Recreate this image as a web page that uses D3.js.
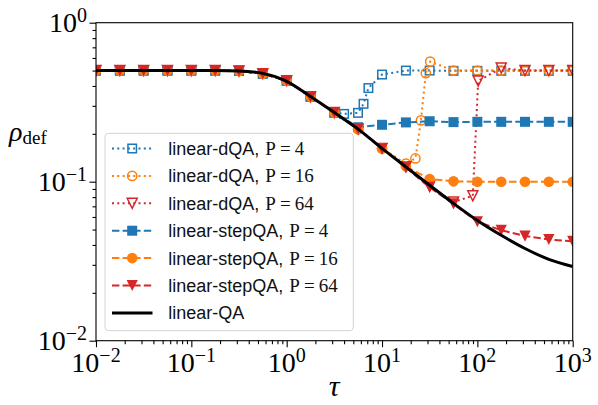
<!DOCTYPE html>
<html>
<head>
<meta charset="utf-8">
<script src="https://cdn.jsdelivr.net/npm/d3@7"></script>
<style>
  body { margin: 0; background: #fff; }
  svg { display: block; }
</style>
</head>
<body>
<div class="chart"></div>
<script>
// tau grid (quarter decades) and the curves
var tauGrid = [0.01, 0.0178, 0.0316, 0.0562, 0.1, 0.178, 0.316, 0.562, 1, 1.78, 3.16,
               5.62, 10, 17.8, 31.6, 56.2, 100, 178, 316, 562, 1000];

var qaRho = [0.5, 0.5, 0.5, 0.5, 0.5, 0.5, 0.497, 0.48, 0.428, 0.343, 0.272,
             0.214, 0.162, 0.124, 0.095, 0.073, 0.057, 0.046, 0.038, 0.0325, 0.0293];

var stepP4 = [0.5, 0.5, 0.5, 0.5, 0.5, 0.5, 0.497, 0.478, 0.432, 0.342, 0.272,
              0.22, 0.228, 0.236, 0.24, 0.237, 0.238, 0.238, 0.238, 0.238, 0.238];
var stepP16 = [0.5, 0.5, 0.5, 0.5, 0.5, 0.5, 0.497, 0.478, 0.432, 0.342, 0.272,
               0.214, 0.162, 0.125, 0.104, 0.1005, 0.1, 0.1, 0.1, 0.1, 0.1];
var stepP64 = [0.5, 0.5, 0.5, 0.5, 0.5, 0.5, 0.497, 0.478, 0.432, 0.342, 0.272,
               0.214, 0.161, 0.123, 0.092, 0.0725, 0.056, 0.0495, 0.0455, 0.0433, 0.0422];

var dqaP4Tau = [0.01, 0.0178, 0.0316, 0.0562, 0.1, 0.178, 0.316, 0.562, 1, 1.78, 3.16,
                4, 5.6, 6.4, 7.2, 10, 17.8, 31.6, 56.2, 100, 178, 316, 562, 1000];
var dqaP4Rho = [0.5, 0.5, 0.5, 0.5, 0.5, 0.5, 0.497, 0.478, 0.432, 0.342, 0.272,
                0.267, 0.271, 0.309, 0.388, 0.472, 0.5, 0.5, 0.498, 0.498, 0.498, 0.498, 0.498, 0.498];

var dqaP16Tau = [0.01, 0.0178, 0.0316, 0.0562, 0.1, 0.178, 0.316, 0.562, 1, 1.78, 3.16,
                 5.62, 10, 17.8, 22.4, 25.6, 28.8, 32, 56.2, 100, 178, 316, 562, 1000];
var dqaP16Rho = [0.5, 0.5, 0.5, 0.5, 0.5, 0.5, 0.497, 0.478, 0.432, 0.342, 0.272,
                 0.214, 0.162, 0.13, 0.14, 0.243, 0.482, 0.569, 0.5, 0.5, 0.5, 0.5, 0.5, 0.5];

var dqaP64Tau = [0.01, 0.0178, 0.0316, 0.0562, 0.1, 0.178, 0.316, 0.562, 1, 1.78, 3.16,
                 5.62, 10, 17.8, 31.6, 56.2, 89.6, 102, 178, 316, 562, 1000];
var dqaP64Rho = [0.5, 0.5, 0.5, 0.5, 0.5, 0.5, 0.497, 0.478, 0.432, 0.342, 0.272,
                 0.214, 0.162, 0.124, 0.094, 0.0745, 0.0815, 0.43, 0.518, 0.5, 0.5, 0.5];

var xMajor = [1e-2, 1e-1, 1e0, 1e1, 1e2, 1e3];
var xMajorExp = ["\u22122", "\u22121", "0", "1", "2", "3"];
var yMajor = [1e-2, 1e-1, 1e0];
var yMajorExp = ["\u22122", "\u22121", "0"];

var blue = "#1f77b4", orange = "#ff7f0e", red = "#d62728";

var series = [
  {label: "linear-dQA,", p: "4", tau: dqaP4Tau, rho: dqaP4Rho, color: blue, dash: "2,3.3", marker: "square", open: true},
  {label: "linear-dQA,", p: "16", tau: dqaP16Tau, rho: dqaP16Rho, color: orange, dash: "2,3.3", marker: "circle", open: true},
  {label: "linear-dQA,", p: "64", tau: dqaP64Tau, rho: dqaP64Rho, color: red, dash: "2,3.3", marker: "tri", open: true},
  {label: "linear-stepQA,", p: "4", tau: tauGrid, rho: stepP4, color: blue, dash: "7.4,3.2", marker: "square", open: false},
  {label: "linear-stepQA,", p: "16", tau: tauGrid, rho: stepP16, color: orange, dash: "7.4,3.2", marker: "circle", open: false},
  {label: "linear-stepQA,", p: "64", tau: tauGrid, rho: stepP64, color: red, dash: "7.4,3.2", marker: "tri", open: false}
];

var width = 598, height = 405;
var plotL = 96, plotR = 572.7, plotT = 22.7, plotB = 340.7;

var svg = d3.select(".chart").append("svg").attr("width", width).attr("height", height);

var x = d3.scaleLog().domain([1e-2, 1e3]).range([plotL, plotR]);
var y = d3.scaleLog().domain([1e-2, 1]).range([plotB, plotT]);

svg.append("clipPath").attr("id", "clip")
  .append("rect").attr("x", plotL).attr("y", plotT).attr("width", plotR - plotL).attr("height", plotB - plotT);

// minor ticks
var xMinor = [], yMinor = [];
[-2, -1, 0, 1, 2].forEach(function(e) {
  for (var m = 2; m < 10; m++) xMinor.push(m * Math.pow(10, e));
});
[-2, -1].forEach(function(e) {
  for (var m = 2; m < 10; m++) yMinor.push(m * Math.pow(10, e));
});

function styleAxis(g) {
  g.select(".domain").remove();
  g.selectAll("line").attr("stroke", "#000").attr("stroke-width", 1.1);
  g.selectAll("text").remove();
}

svg.append("g").attr("transform", "translate(0," + plotB + ")")
  .call(d3.axisBottom(x).tickValues(xMajor).tickSize(6.5).tickSizeOuter(0)).call(styleAxis);
svg.append("g").attr("transform", "translate(0," + plotB + ")")
  .call(d3.axisBottom(x).tickValues(xMinor).tickSize(3.5).tickSizeOuter(0)).call(styleAxis);
svg.append("g").attr("transform", "translate(" + plotL + ",0)")
  .call(d3.axisLeft(y).tickValues(yMajor).tickSize(6.5).tickSizeOuter(0)).call(styleAxis);
svg.append("g").attr("transform", "translate(" + plotL + ",0)")
  .call(d3.axisLeft(y).tickValues(yMinor).tickSize(3.5).tickSizeOuter(0)).call(styleAxis);

var serif = "'Liberation Serif', 'DejaVu Serif', serif";
var sans = "'Liberation Sans', 'DejaVu Sans', sans-serif";

// tick labels 10^n
xMajor.forEach(function(v, i) {
  var t = svg.append("text").attr("x", x(v)).attr("y", 372).attr("text-anchor", "middle")
    .attr("font-family", serif).attr("font-size", 28);
  t.append("tspan").text("10");
  t.append("tspan").attr("dy", -10).attr("font-size", 20).text(xMajorExp[i]);
});
yMajor.forEach(function(v, i) {
  var t = svg.append("text").attr("x", 87).attr("y", y(v) + 9).attr("text-anchor", "end")
    .attr("font-family", serif).attr("font-size", 28);
  t.append("tspan").text("10");
  t.append("tspan").attr("dy", -10).attr("font-size", 20).text(yMajorExp[i]);
});

// axis labels
svg.append("text").attr("x", 334).attr("y", 396).attr("text-anchor", "middle")
  .attr("font-family", serif).attr("font-style", "italic").attr("font-size", 30).text("\u03c4");
var yl = svg.append("text").attr("x", 9).attr("y", 141).attr("font-family", serif).attr("font-size", 28);
yl.append("tspan").attr("font-style", "italic").text("\u03c1");
yl.append("tspan").attr("dy", 3).attr("font-size", 19).text("def");

// markers
function drawMarker(g, kind, open, color, cx, cy) {
  var sw = open ? 1.5 : 0;
  var fill = open ? "none" : color;
  var m;
  if (kind === "square") {
    var s = open ? 8.5 : 10;
    m = g.append("rect").attr("x", cx - s / 2).attr("y", cy - s / 2).attr("width", s).attr("height", s);
  } else if (kind === "circle") {
    m = g.append("circle").attr("cx", cx).attr("cy", cy).attr("r", open ? 4.6 : 5.3);
  } else {
    var h = open ? 5 : 5.6;
    m = g.append("path").attr("d", "M" + (cx - h) + "," + (cy - h) + "L" + (cx + h) + "," + (cy - h) + "L" + cx + "," + (cy + h) + "Z");
  }
  m.attr("fill", fill).attr("stroke", open ? color : "none").attr("stroke-width", sw);
  return m;
}

var plot = svg.append("g").attr("clip-path", "url(#clip)");

var line = d3.line()
  .x(function(d) { return x(d[0]); })
  .y(function(d) { return y(d[1]); });

series.forEach(function(s) {
  var pts = s.tau.map(function(t, i) { return [t, s.rho[i]]; });
  var g = plot.append("g");
  g.append("path").datum(pts).attr("d", line).attr("fill", "none")
    .attr("stroke", s.color).attr("stroke-width", 2).attr("stroke-dasharray", s.dash);
  pts.forEach(function(p) {
    drawMarker(g, s.marker, s.open, s.color, x(p[0]), y(p[1]));
  });
});

var qaPts = tauGrid.map(function(t, i) { return [t, qaRho[i]]; });
plot.append("path").datum(qaPts)
  .attr("d", line.curve(d3.curveMonotoneX))
  .attr("fill", "none").attr("stroke", "#000").attr("stroke-width", 3);

// frame
svg.append("rect").attr("x", plotL).attr("y", plotT).attr("width", plotR - plotL).attr("height", plotB - plotT)
  .attr("fill", "none").attr("stroke", "#000").attr("stroke-width", 1.1);

// legend
var lg = svg.append("g");
lg.append("rect").attr("x", 105).attr("y", 133.3).attr("width", 248.3).attr("height", 197.4)
  .attr("rx", 3.5).attr("fill", "#fff").attr("fill-opacity", 0.8).attr("stroke", "#d3d3d3").attr("stroke-width", 1);

var rowY0 = 148.5, rowStep = 27.4;
series.forEach(function(s, i) {
  var cy = rowY0 + i * rowStep;
  lg.append("line").attr("x1", 112).attr("x2", 152.5).attr("y1", cy).attr("y2", cy)
    .attr("stroke", s.color).attr("stroke-width", 2).attr("stroke-dasharray", s.dash);
  drawMarker(lg, s.marker, s.open, s.color, 132.2, cy);
  var t = lg.append("text").attr("x", 168.3).attr("y", cy + 6.5).attr("fill", "#111");
  t.append("tspan").attr("font-family", sans).attr("font-size", 18).text(s.label);
  t.append("tspan").attr("dx", 6).attr("font-family", serif).attr("font-size", 19).text("P");
  t.append("tspan").attr("dx", 4).attr("font-family", serif).attr("font-size", 19).text("=");
  t.append("tspan").attr("dx", 4).attr("font-family", serif).attr("font-size", 19).text(s.p);
});
var cyQA = rowY0 + 6 * rowStep;
lg.append("line").attr("x1", 112).attr("x2", 152.5).attr("y1", cyQA).attr("y2", cyQA)
  .attr("stroke", "#000").attr("stroke-width", 3);
lg.append("text").attr("x", 168.3).attr("y", cyQA + 6.5).attr("font-size", 18).attr("fill", "#111")
  .attr("font-family", sans).text("linear-QA");
</script>
</body>
</html>
